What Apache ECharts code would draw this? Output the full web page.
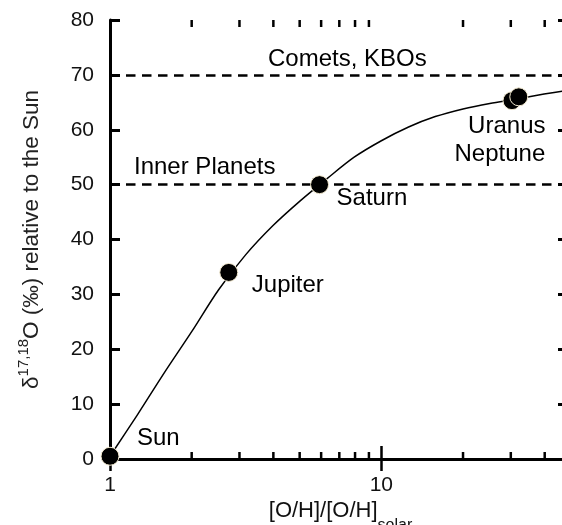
<!DOCTYPE html>
<html><head><meta charset="utf-8">
<script src="https://cdn.jsdelivr.net/npm/echarts@6/dist/echarts.min.js"></script>
<style>html,body{margin:0;padding:0;background:#fff}#c{width:562px;height:525px}</style>
</head><body><div id="c"></div>
<script>
// ---- data ----
const xMin = 1, xMax = 50;
const yMin = 0, yMax = 80, yStep = 10;
const xMinorTicks = [2, 3, 4, 5, 6, 7, 8, 9, 20, 30, 40];
const curveX = [1, 1.26, 1.58, 2.0, 2.51, 3.16, 3.98, 5.01, 6.31, 7.94, 10, 12.6, 15.8, 20, 25.1, 31.6, 39.8, 50];
const curveY = [0.5, 8.0, 15.6, 23.2, 30.8, 37.2, 42.5, 47.0, 51.1, 55.0, 58.0, 60.5, 62.4, 63.8, 64.8, 65.6, 66.5, 67.3];
const planetNames = ['Sun', 'Jupiter', 'Saturn', 'Uranus', 'Neptune'];
const planetX = [1, 2.74, 5.92, 30.3, 32.1];
const planetY = [0.5, 34, 50, 65.3, 66.0];
const regionNames = ['Comets, KBOs', 'Inner Planets'];
const regionY = [70, 50];

// ---- styles (kept separate from data) ----
const FONT = '"Liberation Sans", Arial, sans-serif';
const labelOffsets = {
  Sun: {offset: [27, -18], align: 'left'},
  Jupiter: {offset: [23, 13], align: 'left'},
  Saturn: {offset: [17, 14], align: 'left'},
  Uranus: {offset: [33.5, 26], align: 'right'},
  Neptune: {offset: [26.5, 58], align: 'right'}
};
const regionLabelDist = {'Comets, KBOs': [158, 3.5], 'Inner Planets': [24, 5.5]};

const chart = echarts.init(document.getElementById('c'), null, {renderer: 'canvas'});

const curveData = curveX.map((x, i) => [x, curveY[i]]);
const planetData = planetNames.map((n, i) => ({
  name: n,
  value: [planetX[i], planetY[i]],
  label: {
    show: true, formatter: n, position: ['50%', '50%'],
    offset: labelOffsets[n].offset, align: labelOffsets[n].align, verticalAlign: 'middle',
    fontSize: 24, color: '#000', fontFamily: FONT, opacity: 1
  }
}));
const markLineData = regionNames.map((n, i) => ({
  yAxis: regionY[i],
  label: {
    show: true, formatter: n, position: 'insideStartTop', distance: regionLabelDist[n],
    fontSize: 24, color: '#000', fontFamily: FONT
  }
}));

const axisLineStyle = {color: '#000', width: 3};

chart.setOption({
  animation: false,
  textStyle: {fontFamily: FONT},
  grid: {left: 110, top: 20, right: -9, bottom: 66, outerBoundsMode: 'none', containLabel: false},
  xAxis: [{
    type: 'log', logBase: 10, min: xMin, max: xMax, position: 'bottom',
    axisLine: {show: true, lineStyle: axisLineStyle},
    axisTick: {show: true, inside: true, length: 13, lineStyle: {color: '#000', width: 2.5}},
    axisLabel: {show: true, margin: 16, fontSize: 21, color: '#111', fontFamily: FONT, showMaxLabel: false},
    splitLine: {show: false}, minorTick: {show: false},
    name: '{m|[O/H]/[O/H]}{s|solar}', nameLocation: 'middle', nameGap: 41, nameMoveOverlap: false,
    nameTextStyle: {
      color: '#111', fontFamily: FONT,
      rich: {
        m: {fontSize: 22, lineHeight: 22, verticalAlign: 'middle', color: '#111', fontFamily: FONT},
        s: {fontSize: 16, lineHeight: 16, padding: [18, 0, 0, 0], verticalAlign: 'top', color: '#111', fontFamily: FONT}
      }
    }
  }, {
    type: 'log', logBase: 10, min: xMin, max: xMax, position: 'top',
    axisLine: {show: true, lineStyle: axisLineStyle},
    axisTick: {show: true, inside: true, length: 12, lineStyle: {color: '#000', width: 2.5}},
    axisLabel: {show: false}, splitLine: {show: false}
  }],
  yAxis: [{
    type: 'value', min: yMin, max: yMax, interval: yStep, position: 'left',
    axisLine: {show: true, lineStyle: axisLineStyle},
    axisTick: {show: true, inside: true, length: 10, lineStyle: {color: '#000', width: 3}},
    axisLabel: {show: true, margin: 16, fontSize: 21, color: '#111', fontFamily: FONT},
    splitLine: {show: false},
    name: '{m|δ}{p|17,18}{m|O (‰) relative to the Sun}', nameLocation: 'middle', nameGap: 72, nameMoveOverlap: false,
    nameTextStyle: {
      color: '#222', fontFamily: FONT,
      rich: {
        m: {fontSize: 22.5, lineHeight: 22, padding: [4, 0, 0, 0], verticalAlign: 'top', color: '#222', fontFamily: FONT},
        p: {fontSize: 15, lineHeight: 15, verticalAlign: 'top', color: '#222', fontFamily: FONT}
      }
    }
  }, {
    type: 'value', min: yMin, max: yMax, interval: yStep, position: 'right',
    axisLine: {show: true, lineStyle: axisLineStyle},
    axisTick: {show: true, inside: true, length: 13, lineStyle: {color: '#000', width: 3}},
    axisLabel: {show: false}, splitLine: {show: false}
  }],
  series: [{
    type: 'line', xAxisIndex: 0, yAxisIndex: 0, data: curveData, smooth: 0.3,
    showSymbol: false, symbol: 'none', lineStyle: {color: '#000', width: 1.5}, silent: true, z: 2,
    markLine: {
      silent: true, symbol: ['none', 'none'], animation: false,
      lineStyle: {color: '#000', width: 2.5, type: [9.5, 6.5]},
      emphasis: {disabled: true},
      data: markLineData
    }
  }, {
    type: 'scatter', xAxisIndex: 0, yAxisIndex: 0, data: planetData, symbol: 'circle', symbolSize: 18,
    itemStyle: {color: '#000', opacity: 1, borderColor: '#f3ead0', borderWidth: 1},
    emphasis: {disabled: true}, clip: false, silent: true, z: 5
  }, {
    type: 'custom', xAxisIndex: 0, yAxisIndex: 0, silent: true, clip: false, z: 3,
    data: xMinorTicks.map(v => [v, yMin]),
    renderItem: function (params, api) {
      const v = api.value(0);
      const pb = api.coord([v, yMin]);
      const pt = api.coord([v, yMax]);
      return {type: 'group', children: [
        {type: 'line', shape: {x1: pb[0], y1: pb[1], x2: pb[0], y2: pb[1] - 7}, style: {stroke: '#000', lineWidth: 2.5}},
        {type: 'line', shape: {x1: pt[0], y1: pt[1], x2: pt[0], y2: pt[1] + 7}, style: {stroke: '#000', lineWidth: 2.5}}
      ]};
    }
  }]
});
</script></body></html>
